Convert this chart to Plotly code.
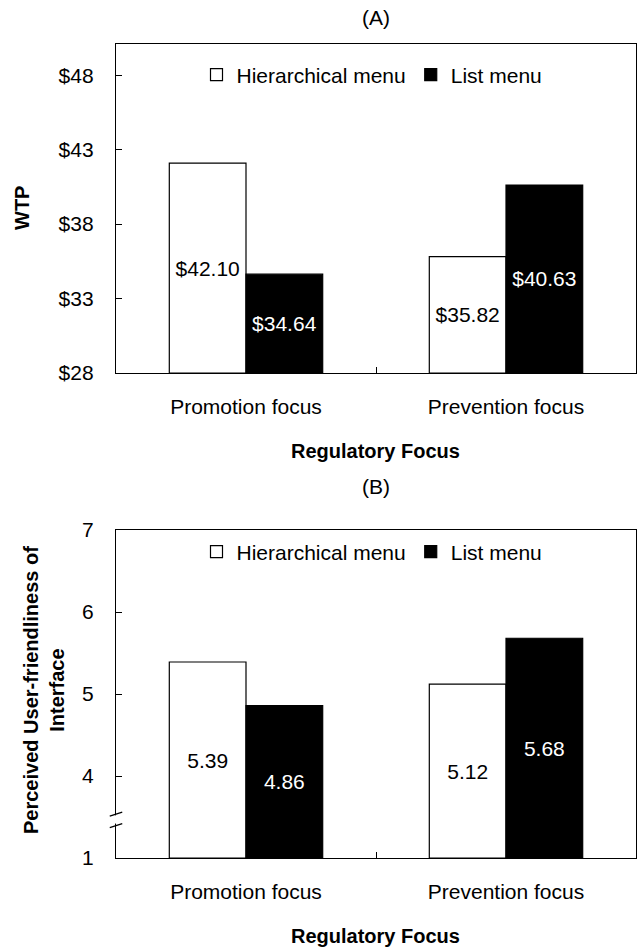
import plotly.graph_objects as go

categories = ["Promotion focus", "Prevention focus"]
series_names = ["Hierarchical menu", "List menu"]
wtp_hier = [42.10, 35.82]
wtp_list = [34.64, 40.63]
uf_hier = [5.39, 5.12]
uf_list = [4.86, 5.68]
wtp_ticks = [28, 33, 38, 43, 48]
wtp_ticktext = ["$28", "$33", "$38", "$43", "$48"]
uf_tickvals = [3, 4, 5, 6, 7]      # display positions on the broken axis
uf_ticktext = ["1", "4", "5", "6", "7"]

W, H = 638, 949
FONT = "Liberation Sans, Arial, sans-serif"
FS = 21
WTP_FLOOR = 28
UF_FLOOR = 3

def px_y(py):
    return 1 - py / H

def px_x(px):
    return px / W

fig = go.Figure()

def add_bars(vals_h, vals_l, floor, fmt, xa, ya, leg):
    for vals, name, fill, tcol in [(vals_h, series_names[0], "white", "black"),
                                   (vals_l, series_names[1], "black", "white")]:
        fig.add_trace(go.Bar(
            x=categories, y=[v - floor for v in vals], base=floor, name=name,
            marker=dict(color=fill, line=dict(color="black", width=1.2)),
            text=[fmt.format(v) for v in vals], textposition="inside",
            insidetextanchor="middle", textangle=0,
            textfont=dict(color=tcol, size=FS, family=FONT),
            hovertext=[fmt.format(v) for v in vals], hoverinfo="text",
            xaxis=xa, yaxis=ya, legend=leg))

add_bars(wtp_hier, wtp_list, WTP_FLOOR, "${:.2f}", "x", "y", "legend")
add_bars(uf_hier, uf_list, UF_FLOOR, "{:.2f}", "x2", "y2", "legend2")

xdom = [px_x(116), px_x(636)]
axis_common = dict(showline=True, linecolor="black", linewidth=1.4, mirror=True,
                   showgrid=False, zeroline=False, ticks="inside", ticklen=6,
                   tickcolor="black", automargin=False,
                   tickfont=dict(size=FS, family=FONT, color="black"))

xcommon = dict(axis_common, tickson="boundaries", ticklabelstandoff=15)
ycommon = dict(axis_common, ticklabelstandoff=17)

LEG_X = px_x(372)

fig.update_layout(
    width=W, height=H,
    margin=dict(l=0, r=0, t=0, b=0, pad=0),
    paper_bgcolor="white", plot_bgcolor="white",
    barmode="group", bargap=0.41, bargroupgap=0,
    font=dict(family=FONT, size=FS, color="black"),
    xaxis=dict(xcommon, domain=xdom, anchor="y", range=[-0.5, 1.5]),
    yaxis=dict(ycommon, domain=[px_y(373), px_y(44)], anchor="x", range=[28, 50.1],
               tickvals=wtp_ticks, ticktext=wtp_ticktext),
    xaxis2=dict(xcommon, domain=xdom, anchor="y2", range=[-0.5, 1.5]),
    yaxis2=dict(ycommon, domain=[px_y(858), px_y(530)], anchor="x2", range=[3, 7],
                tickvals=uf_tickvals, ticktext=uf_ticktext),
    legend=dict(orientation="h", x=LEG_X, y=px_y(75), xanchor="center", yanchor="middle",
                bgcolor="rgba(0,0,0,0)", font=dict(size=FS, family=FONT), itemwidth=30,
                traceorder="normal"),
    legend2=dict(orientation="h", x=LEG_X, y=px_y(552), xanchor="center", yanchor="middle",
                 bgcolor="rgba(0,0,0,0)", font=dict(size=FS, family=FONT), itemwidth=30,
                 traceorder="normal"),
    showlegend=True,
)

ann = [
    dict(text="(A)", x=0.589, y=px_y(18), font=dict(size=21)),
    dict(text="(B)", x=0.589, y=px_y(487), font=dict(size=21)),
    dict(text="<b>WTP</b>", x=px_x(22), y=px_y(208), textangle=-90, font=dict(size=20)),
    dict(text="<b>Regulatory Focus</b>", x=0.589, y=px_y(451), font=dict(size=20)),
    dict(text="<b>Perceived User-friendliness of<br>Interface</b>", x=px_x(44), y=px_y(690),
         textangle=-90, font=dict(size=20)),
    dict(text="<b>Regulatory Focus</b>", x=0.589, y=px_y(936), font=dict(size=20)),
]
for a in ann:
    fig.add_annotation(xref="paper", yref="paper", showarrow=False,
                       xanchor="center", yanchor="middle", **a)

# axis break marks on panel B
fig.add_shape(type="line", xref="x2 domain", yref="y2", x0=0, x1=0, y0=3.42, y1=3.52,
              line=dict(color="white", width=4), layer="above")
for y0, y1 in [(3.37, 3.42), (3.51, 3.56)]:
    fig.add_shape(type="line", xref="x2 domain", yref="y2", x0=-0.012, x1=0.012,
                  y0=y0, y1=y1, line=dict(color="black", width=1.3), layer="above")

fig.write_html("out.html", config={"displayModeBar": False},
               post_script="document.body.style.margin='0';document.body.style.overflow='hidden';")
